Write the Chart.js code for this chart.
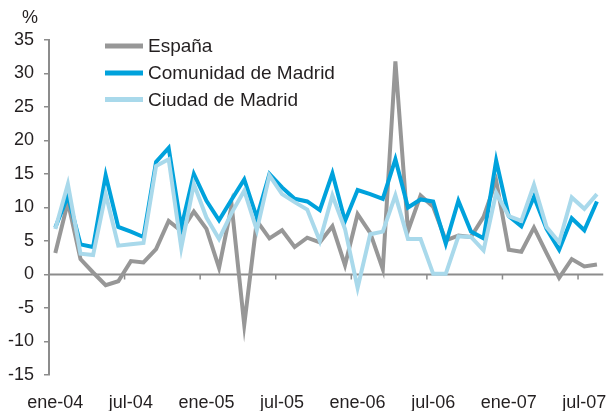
<!DOCTYPE html>
<html>
<head>
<meta charset="utf-8">
<script src="https://cdn.jsdelivr.net/npm/chart.js@4.4.0/dist/chart.umd.min.js"></script>
<style>
    html, body { margin: 0; padding: 0; background: #fff; }
    .chart-box { width: 614px; height: 411px; position: relative; }
</style>
</head>
<body>
<div class="chart-box"><canvas id="myLineChart"></canvas></div>
<script>
const months = [
    'ene-04', 'feb-04', 'mar-04', 'abr-04', 'may-04', 'jun-04', 'jul-04', 'ago-04', 'sep-04', 'oct-04', 'nov-04', 'dic-04',
    'ene-05', 'feb-05', 'mar-05', 'abr-05', 'may-05', 'jun-05', 'jul-05', 'ago-05', 'sep-05', 'oct-05', 'nov-05', 'dic-05',
    'ene-06', 'feb-06', 'mar-06', 'abr-06', 'may-06', 'jun-06', 'jul-06', 'ago-06', 'sep-06', 'oct-06', 'nov-06', 'dic-06',
    'ene-07', 'feb-07', 'mar-07', 'abr-07', 'may-07', 'jun-07', 'jul-07', 'ago-07'
];

const espana = [
    3.2, 10.8, 2.3, 0.3, -1.6, -1.0, 2.0, 1.8, 3.8, 8.0, 6.5, 9.4,
    6.8, 1.0, 10.3, -7.5, 8.0, 5.4, 6.6, 4.1, 5.5, 4.8, 7.2, 1.4,
    9.0, 6.2, 0.8, 31.8, 6.5, 11.8, 10.1, 5.1, 5.8, 5.6, 8.6, 14.0,
    3.7, 3.4, 7.0, 3.2, -0.5, 2.3, 1.2, 1.5
];
const comunidad = [
    7.0, 11.7, 4.5, 4.1, 14.8, 7.1, 6.4, 5.6, 16.8, 18.9, 7.0, 15.0,
    11.0, 8.1, 11.2, 14.2, 8.5, 15.0, 13.0, 11.3, 10.9, 9.6, 15.1, 8.0,
    12.6, 12.0, 11.3, 17.2, 10.0, 11.2, 10.9, 4.6, 11.0, 6.4, 5.4, 17.0,
    8.7, 7.2, 11.6, 6.8, 3.7, 8.4, 6.6, 10.9
];
const ciudad = [
    6.8, 13.5, 3.1, 2.9, 12.0, 4.3, 4.5, 4.7, 16.2, 17.2, 4.0, 13.5,
    8.5, 5.3, 9.2, 12.5, 6.6, 14.8, 12.0, 10.8, 9.7, 5.0, 11.8, 6.8,
    -2.0, 6.0, 6.4, 11.8, 5.3, 5.3, 0.1, 0.1, 5.7, 5.6, 3.6, 12.2,
    8.7, 8.0, 13.4, 7.1, 4.8, 11.5, 9.8, 12.0
];

const seriesNames = ['España', 'Comunidad de Madrid', 'Ciudad de Madrid'];
const yTicks = [-15, -10, -5, 0, 5, 10, 15, 20, 25, 30, 35];

const axisGrey = '#8c8c8c';
const textColor = '#231f20';

// linea del cero, marcas del eje x, leyenda y "%"
const extrasPlugin = {
    id: 'extras',
    beforeDatasetsDraw(chart) {
        const { ctx, chartArea, scales } = chart;
        const y0 = scales.y.getPixelForValue(0);
        const half = (scales.x.getPixelForValue(1) - scales.x.getPixelForValue(0)) / 2;
        ctx.save();
        ctx.strokeStyle = axisGrey;
        ctx.lineWidth = 2;
        ctx.beginPath();
        ctx.moveTo(chartArea.left, y0);
        ctx.lineTo(chartArea.right, y0);
        ctx.stroke();
        ctx.lineWidth = 1.5;
        for (let i = 0; i < months.length; i += 6) {
            const x = scales.x.getPixelForValue(i) - half;
            ctx.beginPath();
            ctx.moveTo(x, y0);
            ctx.lineTo(x, y0 + 5);
            ctx.stroke();
        }
        ctx.restore();
    },
    afterDraw(chart) {
        const { ctx } = chart;
        ctx.save();
        ctx.font = '18px "Liberation Sans", Arial, sans-serif';
        ctx.fillStyle = textColor;
        ctx.textAlign = 'center';
        ctx.textBaseline = 'middle';
        ctx.fillText('%', 30, 18);

        ctx.font = '19px "Liberation Sans", Arial, sans-serif';
        ctx.textAlign = 'left';
        const rows = [46, 73, 99.5];
        chart.data.datasets.forEach((ds, i) => {
            ctx.strokeStyle = ds.borderColor;
            ctx.lineWidth = 5;
            ctx.beginPath();
            ctx.moveTo(105, rows[i]);
            ctx.lineTo(143, rows[i]);
            ctx.stroke();
            ctx.fillStyle = textColor;
            ctx.fillText(ds.label, 148, rows[i] + 1);
        });
        ctx.restore();
    }
};

const ctxLine = document.getElementById('myLineChart').getContext('2d');
new Chart(ctxLine, {
    type: 'line',
    data: {
        labels: months,
        datasets: [{
            label: seriesNames[0],
            data: espana,
            borderColor: '#979797',
            order: 2
        }, {
            label: seriesNames[1],
            data: comunidad,
            borderColor: '#00a2dc',
            order: 1
        }, {
            label: seriesNames[2],
            data: ciudad,
            borderColor: '#a9d9eb',
            order: 0
        }]
    },
    options: {
        maintainAspectRatio: false,
        responsive: true,
        animation: false,
        layout: {
            padding: { top: 40, right: 6, left: 0, bottom: 0 }
        },
        plugins: {
            legend: { display: false },
            tooltip: { enabled: false }
        },
        elements: {
            line: {
                borderWidth: 4,
                tension: 0,
                borderJoinStyle: 'miter'
            },
            point: {
                radius: 0
            }
        },
        scales: {
            x: {
                offset: true,
                border: { display: false },
                grid: { display: false, drawTicks: false },
                afterFit(scale) { scale.height = 36; },
                ticks: {
                    autoSkip: false,
                    maxRotation: 0,
                    padding: 17,
                    color: textColor,
                    font: { family: '"Liberation Sans", Arial, sans-serif', size: 18 },
                    callback: function (value, index) {
                        return index % 6 === 0 ? months[index] : '';
                    }
                }
            },
            y: {
                min: yTicks[0],
                max: yTicks[yTicks.length - 1],
                border: { display: true, color: axisGrey, width: 2 },
                grid: {
                    drawOnChartArea: false,
                    drawTicks: true,
                    tickLength: 5,
                    color: axisGrey,
                    lineWidth: 1.5
                },
                afterFit(scale) { scale.width = 49; },
                afterBuildTicks(scale) {
                    scale.ticks = yTicks.map(v => ({ value: v }));
                },
                ticks: {
                    padding: 10,
                    color: textColor,
                    font: { family: '"Liberation Sans", Arial, sans-serif', size: 18 }
                }
            }
        }
    },
    plugins: [extrasPlugin]
});
</script>
</body>
</html>
